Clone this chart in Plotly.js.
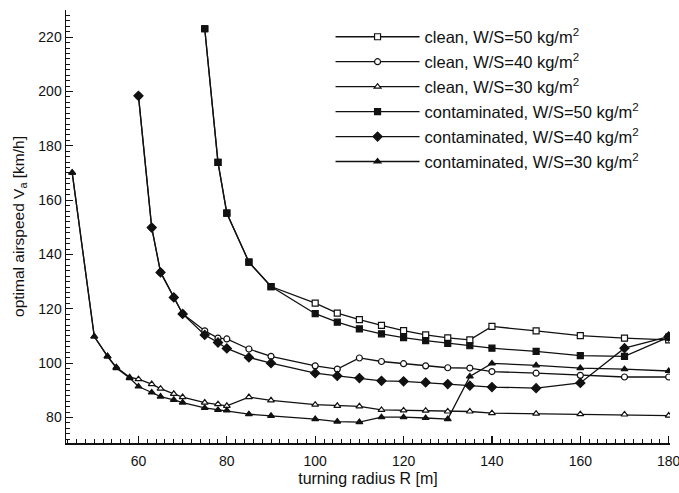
<!DOCTYPE html>
<html>
<head>
<meta charset="utf-8">
<script src="https://cdn.plot.ly/plotly-3.0.1.min.js"></script>
<style>html,body{margin:0;padding:0;background:#fff}#chart{width:679px;height:493px}</style>
</head>
<body>
<div id="chart"></div>
<script>
var seriesNames = [
  "clean, W/S=50 kg/m<sup>2</sup>",
  "clean, W/S=40 kg/m<sup>2</sup>",
  "clean, W/S=30 kg/m<sup>2</sup>",
  "contaminated, W/S=50 kg/m<sup>2</sup>",
  "contaminated, W/S=40 kg/m<sup>2</sup>",
  "contaminated, W/S=30 kg/m<sup>2</sup>"
];

var R50 = [75, 78, 80, 85, 90, 100, 105, 110, 115, 120, 125, 130, 135, 140, 150, 160, 170, 180];
var R40 = [60, 63, 65, 68, 70, 75, 78, 80, 85, 90, 100, 105, 110, 115, 120, 125, 130, 135, 140, 150, 160, 170, 180];
var R30 = [45, 50, 53, 55, 58, 60, 63, 65, 68, 70, 75, 78, 80, 85, 90, 100, 105, 110, 115, 120, 125, 130, 135, 140, 150, 160, 170, 180];

var clean50 = [223.1, 173.9, 155.2, 137.2, 128.2, 122.1, 118.4, 116.0, 113.9, 112.0, 110.4, 109.3, 108.6, 113.5, 111.9, 110.1, 109.2, 108.6];
var clean40 = [198.4, 149.9, 133.5, 124.2, 118.2, 111.9, 109.2, 108.9, 105.2, 102.5, 99.0, 97.8, 101.9, 100.6, 99.8, 99.0, 98.3, 98.2, 96.9, 96.3, 95.5, 94.9, 94.9];
var clean30 = [170.1, 109.8, 102.5, 98.5, 94.8, 94.1, 92.3, 90.6, 88.7, 87.5, 85.5, 84.9, 84.3, 87.5, 86.3, 84.7, 84.3, 84.1, 82.8, 82.6, 82.5, 82.2, 82.2, 81.6, 81.4, 81.2, 81.1, 80.7];
var cont50 = [223.1, 173.9, 155.2, 137.2, 128.2, 118.2, 115.1, 112.6, 110.8, 109.4, 108.3, 107.3, 106.4, 105.5, 104.3, 102.8, 102.5, 109.6];
var cont40 = [198.4, 149.9, 133.4, 124.2, 118.1, 110.4, 107.6, 105.4, 102.1, 100.0, 96.3, 95.3, 94.5, 93.5, 93.3, 92.9, 92.3, 91.7, 91.2, 90.8, 92.7, 105.5, 109.8];
var cont30 = [170.1, 109.8, 102.5, 98.2, 94.5, 91.4, 89.2, 87.7, 86.5, 85.5, 83.5, 82.8, 82.6, 81.2, 80.6, 79.4, 78.5, 78.3, 80.1, 80.1, 79.8, 79.4, 95.1, 99.9, 99.2, 98.2, 97.8, 97.1];

var xTickVals = [60, 80, 100, 120, 140, 160, 180];
var yTickVals = [80, 100, 120, 140, 160, 180, 200, 220];

var xs = [R50, R40, R30, R50, R40, R30];
var ys = [clean50, clean40, clean30, cont50, cont40, cont30];
var symbols = ["square", "circle", "triangle-up", "square", "diamond", "triangle-up"];
var fills = ["#fff", "#fff", "#fff", "#111", "#111", "#111"];
var sizes = [6, 6, 6, 6, 7, 6];

var traces = [];
for (var i = 0; i < 6; i++) {
  traces.push({
    type: "scatter",
    mode: "lines+markers",
    name: seriesNames[i],
    x: xs[i],
    y: ys[i],
    legendgroup: "g" + i,
    line: {color: "#111", width: 1.3},
    marker: {
      symbol: symbols[i],
      size: sizes[i],
      color: fills[i],
      line: {color: "#111", width: 1.2}
    }
  });
}

var font = "Liberation Sans, Arial, Helvetica, sans-serif";
var layout = {
  width: 679,
  height: 493,
  margin: {l: 66, r: 9, t: 10, b: 50},
  paper_bgcolor: "#fff",
  plot_bgcolor: "#fff",
  font: {family: font, color: "#111", size: 14},
  showlegend: true,
  legend: {
    x: 0.438,
    xanchor: "left",
    y: 0.978,
    yanchor: "top",
    bgcolor: "rgba(0,0,0,0)",
    font: {family: font, size: 16.5, color: "#111"},
    itemwidth: 84,
    tracegroupgap: 0.5,
    traceorder: "grouped"
  },
  xaxis: {
    range: [43.6, 180.3],
    tickvals: xTickVals,
    ticktext: xTickVals.map(String),
    ticks: "inside",
    ticklen: 7,
    tickwidth: 1.2,
    tickcolor: "#111",
    ticklabelstandoff: 5,
    ticklabeloverflow: "allow",
    minor: {dtick: 2, tick0: 0, ticks: "inside", ticklen: 4, tickwidth: 1, tickcolor: "#111"},
    showgrid: false,
    zeroline: false,
    showline: true,
    linecolor: "#111",
    linewidth: 1.5,
    tickfont: {size: 14},
    title: {text: "turning radius R [m]", font: {size: 16}, standoff: 4}
  },
  yaxis: {
    range: [70.6, 230],
    tickvals: yTickVals,
    ticktext: yTickVals.map(String),
    ticks: "inside",
    ticklen: 7,
    tickwidth: 1.2,
    tickcolor: "#111",
    minor: {dtick: 2, tick0: 0, ticks: "inside", ticklen: 4, tickwidth: 1, tickcolor: "#111"},
    showgrid: false,
    zeroline: false,
    showline: true,
    linecolor: "#111",
    linewidth: 1.5,
    tickfont: {size: 14},
    title: {text: "optimal airspeed V<sub>a</sub> [km/h]", font: {size: 15.5}, standoff: 10}
  }
};

Plotly.newPlot("chart", traces, layout, {displayModeBar: false, staticPlot: true});
</script>
</body>
</html>
